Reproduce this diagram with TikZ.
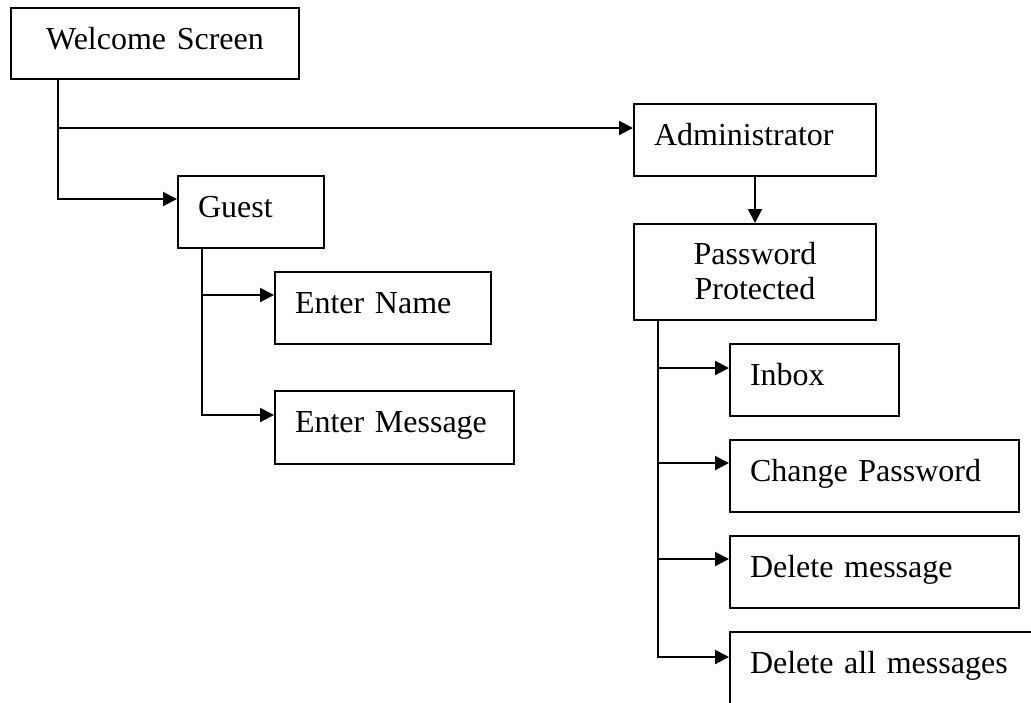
\documentclass[tikz,border=0pt]{standalone}
\usepackage{fontspec}
\setmainfont{Liberation Serif}
\usetikzlibrary{arrows.meta}

\tikzset{
  box/.style={draw, line width=1pt, anchor=north west, inner xsep=10pt, inner ysep=0pt,
              text height=20.5pt, text depth=15.5pt, align=left},
  arr/.style={-{Triangle[length=7pt,width=7pt]}, line width=1pt}
}

\begin{document}
\begin{tikzpicture}[x=0.5pt, y=-0.5pt, font=\fontsize{16}{17.5}\selectfont]
        \useasboundingbox (0,0) rectangle (1031,702);

        \node[box, text width=124pt, text depth=15pt, align=center] (welcome) at (10,7) {Welcome Screen};
        \node[box, text width=101pt] (admin) at (633,103) {Administrator};
        \node[box, text width=53pt] (guest) at (177,175) {Guest};
        \node[box, text width=101pt, text height=20pt, text depth=28pt, align=center] (pwd) at (633,223) {Password\\Protected};
        \node[box, text width=88pt] (name) at (274,271) {Enter Name};
        \node[box, text width=99.5pt, text depth=16pt] (msg) at (274,390) {Enter Message};
        \node[box, text width=64.5pt] (inbox) at (729,343) {Inbox};
        \node[box, text width=124.5pt] (chpwd) at (729,439) {Change Password};
        \node[box, text width=124.5pt] (del) at (729,535) {Delete message};
        \node[box, text width=135pt, text depth=20pt] (delall) at (729,631) {Delete all messages};

        \draw[arr] ([xshift=24pt]welcome.south west) |- ([yshift=-12.5pt]admin.north west);
        \draw[arr] ([xshift=24pt]welcome.south west) |- ([yshift=-12pt]guest.north west);
        \draw[arr] (admin) -- (pwd);
        \draw[arr] ([xshift=12.5pt]guest.south west) |- ([yshift=-12pt]name.north west);
        \draw[arr] ([xshift=12.5pt]guest.south west) |- ([yshift=-12.5pt]msg.north west);
        \draw[arr] ([xshift=12.5pt]pwd.south west) |- ([yshift=-12.5pt]inbox.north west);
        \draw[arr] ([xshift=12.5pt]pwd.south west) |- ([yshift=-12pt]chpwd.north west);
        \draw[arr] ([xshift=12.5pt]pwd.south west) |- ([yshift=-12pt]del.north west);
        \draw[arr] ([xshift=12.5pt]pwd.south west) |- ([yshift=-13pt]delall.north west);
      \end{tikzpicture}
\end{document}
